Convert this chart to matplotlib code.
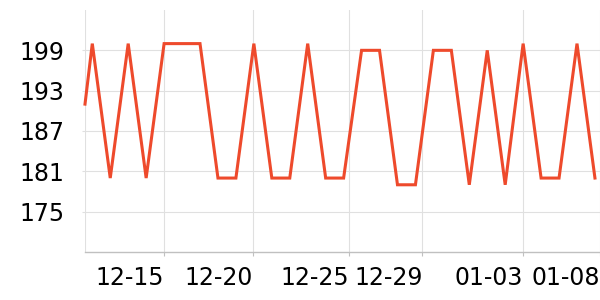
import pandas as pd
import matplotlib
matplotlib.use("Agg")
import matplotlib.pyplot as plt

# daily readings (first one is a partial-day sample)
dates = ["2023-12-10 14:15"] + [d.strftime("%Y-%m-%d 00:00") for d in pd.date_range("2023-12-11", "2024-01-08")]
values = [191,
          200, 180, 200, 180, 200, 200, 200, 180, 180, 200,
          180, 180, 200, 180, 180, 199, 199, 179, 179, 199,
          199, 179, 199, 179, 200, 180, 180, 200, 180]

tick_dates = ["2023-12-15 00:15", "2023-12-19 23:15", "2023-12-25 07:40",
              "2023-12-29 09:20", "2024-01-03 23:30", "2024-01-08 06:45"]
tick_labels = ["12-15", "12-20", "12-25", "12-29", "01-03", "01-08"]
y_ticks = [175, 181, 187, 193, 199]

x = pd.to_datetime(dates, format="%Y-%m-%d %H:%M")
xt = pd.to_datetime(tick_dates, format="%Y-%m-%d %H:%M")

fig = plt.figure(figsize=(6, 3), dpi=100)
ax = fig.add_axes([85 / 600, 48 / 300, 515 / 600, 242 / 300])

ax.plot(x, values, color="#ee4a2c", lw=2.2, solid_joinstyle="miter", zorder=3, clip_on=False)

ax.set_xlim(x[0], xt[-1])
ax.set_ylim(169, 205)
ax.set_yticks(y_ticks)
ax.set_xticks(xt)
ax.set_xticklabels(tick_labels, ha="right")

ax.grid(True, color="#e0e0e0", lw=0.8)
for s in ["top", "right", "left"]:
    ax.spines[s].set_visible(False)
ax.spines["bottom"].set_color("#c0c0c0")
ax.spines["bottom"].set_linewidth(1)
ax.axvline(x[0], color="#e0e0e0", lw=0.8, zorder=0)

ax.tick_params(axis="x", length=3, color="#c0c0c0", pad=7, labelsize=17)
ax.tick_params(axis="y", length=2, color="#e0e0e0", pad=13, labelsize=17)

fig.savefig("out.png", dpi=100)
